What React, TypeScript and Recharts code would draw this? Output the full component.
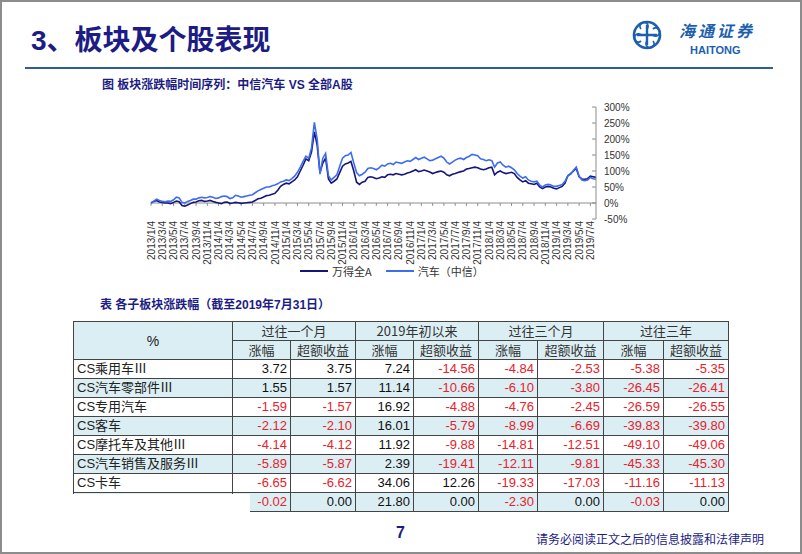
import { LineChart, Line, XAxis, YAxis, ReferenceLine } from "recharts";

// ---- chart data ----
const months: string[] = [];
for (let y = 2013; y <= 2019; y++) {
  for (let m = 1; m <= 12; m++) {
    if (y === 2019 && m > 7) break;
    months.push(`${y}/${m}`);
  }
}
const dates = months.flatMap((m) => [`${m}/4`, `${m}/19`]).concat(["2019/7/31"]);

// 万得全A, cumulative %, twice a month
const allA = [
  0, 5, 8, 3, 2, 0, 0, -2, 2, 6,
  4, -8, -10, -6, -2, 2, 3, 7, 8, 5,
  6, 8, 5, 2, 0, -2, 2, 3, -1, 0,
  2, 1, -1, 0, 1, 2, 3, 8, 13, 15,
  19, 23, 24, 27, 30, 40, 52, 58, 62, 60,
  66, 72, 82, 100, 118, 138, 132, 160, 222, 180,
  95, 125, 140, 75, 62, 68, 75, 95, 115, 122,
  125, 130, 100, 65, 58, 65, 68, 80, 82, 80,
  76, 78, 82, 80, 88, 90, 88, 92, 90, 88,
  90, 94, 96, 100, 104, 98, 100, 103, 100, 97,
  92, 95, 98, 100, 96, 88, 85, 90, 92, 95,
  98, 100, 106, 108, 110, 112, 110, 106, 104, 106,
  110, 112, 88, 96, 100, 95, 92, 94, 96, 92,
  80, 72, 66, 70, 62, 60, 58, 62, 50, 45,
  50, 52, 50, 46, 44, 48, 52, 62, 85, 92,
  100, 108, 82, 75, 74, 76, 84, 82, 80,
];

// 汽车（中信）, cumulative %
const autoCS = [
  0, 6, 12, 8, 5, 4, 6, 5, 10, 18,
  16, 2, 0, 5, 8, 12, 12, 16, 18, 16,
  17, 20, 18, 14, 16, 20, 22, 20, 14, 16,
  24, 22, 18, 20, 22, 24, 26, 32, 38, 42,
  46, 50, 50, 54, 56, 60, 66, 68, 72, 70,
  76, 84, 96, 112, 130, 146, 140, 172, 252, 200,
  90, 140, 155, 85, 72, 80, 88, 115, 140, 148,
  150, 158, 125, 95, 85, 90, 96, 108, 110, 108,
  104, 110, 118, 115, 122, 124, 120, 128, 126, 124,
  128, 132, 130, 136, 142, 136, 140, 143, 138, 132,
  134, 138, 142, 146, 140, 128, 122, 128, 134, 138,
  140, 136, 142, 146, 152, 150, 148, 138, 136, 132,
  135, 132, 112, 125, 128, 118, 112, 115, 110, 104,
  92, 84, 78, 82, 72, 68, 66, 68, 56, 50,
  56, 58, 56, 52, 52, 55, 58, 68, 85, 90,
  102, 112, 84, 72, 70, 72, 80, 76, 74,
];

const tickDates = [
  "2013/1/4", "2013/3/4", "2013/5/4", "2013/7/4", "2013/9/4", "2013/11/4",
  "2014/1/4", "2014/3/4", "2014/5/4", "2014/7/4", "2014/9/4", "2014/11/4",
  "2015/1/4", "2015/3/4", "2015/5/4", "2015/7/4", "2015/9/4", "2015/11/4",
  "2016/1/4", "2016/3/4", "2016/5/4", "2016/7/4", "2016/9/4", "2016/11/4",
  "2017/1/4", "2017/3/4", "2017/5/4", "2017/7/4", "2017/9/4", "2017/11/4",
  "2018/1/4", "2018/3/4", "2018/5/4", "2018/7/4", "2018/9/4", "2018/11/4",
  "2019/1/4", "2019/3/4", "2019/5/4", "2019/7/4",
];
const yTicks = [-50, 0, 50, 100, 150, 200, 250, 300];

const series = [
  { key: "allA", name: "万得全A", color: "#15157a" },
  { key: "auto", name: "汽车（中信）", color: "#3d6cf0" },
];

const chartData = dates.map((d, i) => ({ date: d, allA: allA[i], auto: autoCS[i] }));

// ---- table data ----
const rowNames = ["CS乘用车Ⅲ", "CS汽车零部件Ⅲ", "CS专用汽车", "CS客车", "CS摩托车及其他Ⅲ", "CS汽车销售及服务Ⅲ", "CS卡车", ""];
const groupNames = ["过往一个月", "2019年初以来", "过往三个月", "过往三年"];
const oneMonthChg = [3.72, 1.55, -1.59, -2.12, -4.14, -5.89, -6.65, -0.02];
const oneMonthExcess = [3.75, 1.57, -1.57, -2.1, -4.12, -5.87, -6.62, 0.0];
const ytdChg = [7.24, 11.14, 16.92, 16.01, 11.92, 2.39, 34.06, 21.8];
const ytdExcess = [-14.56, -10.66, -4.88, -5.79, -9.88, -19.41, 12.26, 0.0];
const threeMonthChg = [-4.84, -6.1, -4.76, -8.99, -14.81, -12.11, -19.33, -2.3];
const threeMonthExcess = [-2.53, -3.8, -2.45, -6.69, -12.51, -9.81, -17.03, 0.0];
const threeYearChg = [-5.38, -26.45, -26.59, -39.83, -49.1, -45.33, -11.16, -0.03];
const threeYearExcess = [-5.35, -26.41, -26.55, -39.8, -49.06, -45.3, -11.13, 0.0];
const tableCols = [oneMonthChg, oneMonthExcess, ytdChg, ytdExcess, threeMonthChg, threeMonthExcess, threeYearChg, threeYearExcess];
const colWidths = [159, 58, 65, 58, 65, 59, 66, 60, 65];

const NAVY = "#1c1c84";
const CJK = "'Noto Sans CJK SC', sans-serif";
const LATIN = "'Liberation Sans', Arial, 'Noto Sans CJK SC', sans-serif";
const BLUE_CELL = "#dbeef3";

function DateTick({ x, y, payload }: any) {
  return (
    <text
      x={x}
      y={y}
      dy={3.6}
      transform={`rotate(-90, ${x}, ${y})`}
      textAnchor="end"
      fontSize={10}
      fill="#333"
      fontFamily={LATIN}
    >
      {payload.value}
    </text>
  );
}

function Logo() {
  return (
    <svg width={30} height={30} viewBox="0 0 30 30" style={{ position: "absolute", left: 632, top: 20 }}>
      <circle cx={15} cy={15} r={13} fill="none" stroke="#1d5fae" strokeWidth={2.6} />
      <path d="M5 15 H25 M15 5 V25" stroke="#1d5fae" strokeWidth={2.4} />
      <path d="M9 9 a4 4 0 1 1 6 0 M21 21 a4 4 0 1 1 -6 0 M9 21 a4 4 0 1 1 0 -6 M21 9 a4 4 0 1 1 0 6" fill="none" stroke="#1d5fae" strokeWidth={1.8} />
    </svg>
  );
}

function DataTable() {
  const cell = (bg: string, extra: any = {}) => ({
    border: "1px solid #444",
    background: bg,
    height: 18,
    padding: "0 3px",
    lineHeight: "18px",
    fontSize: 13,
    ...extra,
  });
  return (
    <table
      style={{
        position: "absolute",
        left: 73,
        top: 321,
        borderCollapse: "collapse",
        tableLayout: "fixed",
        width: colWidths.reduce((a, b) => a + b, 0),
        fontFamily: LATIN,
        color: "#222",
      }}
    >
      <colgroup>
        {colWidths.map((w, i) => (
          <col key={i} style={{ width: w }} />
        ))}
      </colgroup>
      <tbody>
        <tr>
          <td rowSpan={2} style={cell(BLUE_CELL, { textAlign: "center", fontSize: 14 })}>%</td>
          {groupNames.map((g) => (
            <td key={g} colSpan={2} style={cell(BLUE_CELL, { textAlign: "center", fontFamily: CJK, color: "#333" })}>
              {g}
            </td>
          ))}
        </tr>
        <tr>
          {groupNames.map((g) => [
            <td key={g + "a"} style={cell(BLUE_CELL, { textAlign: "center", fontFamily: CJK, color: "#333" })}>涨幅</td>,
            <td key={g + "b"} style={cell(BLUE_CELL, { textAlign: "center", fontFamily: CJK, color: "#333" })}>超额收益</td>,
          ])}
        </tr>
        {rowNames.map((name, r) => {
          const bg = r % 2 === 1 ? BLUE_CELL : "#ffffff";
          return (
            <tr key={r}>
              <td style={cell(bg, { textAlign: "left", whiteSpace: "nowrap" })}>{name}</td>
              {tableCols.map((col, c) => (
                <td
                  key={c}
                  style={cell(bg, { textAlign: "right", color: col[r] < 0 ? "#e8212b" : "#111" })}
                >
                  {col[r].toFixed(2)}
                </td>
              ))}
            </tr>
          );
        })}
      </tbody>
    </table>
  );
}

export default function App() {
  return (
    <div
      style={{
        position: "absolute",
        left: 0,
        top: 0,
        width: 802,
        height: 554,
        background: "#fff",
        overflow: "hidden",
      }}
    >
      {/* slide title */}
      <div
        style={{
          position: "absolute",
          left: 31,
          top: 22,
          fontSize: 28,
          fontWeight: 700,
          color: NAVY,
          fontFamily: LATIN,
          lineHeight: "38px",
          whiteSpace: "nowrap",
        }}
      >
        3、板块及个股表现
      </div>
      <div style={{ position: "absolute", left: 25, top: 67, width: 748, height: 2, background: "#2f5d9c" }} />
      <Logo />
      <div
        style={{
          position: "absolute",
          left: 679,
          top: 22,
          fontSize: 16,
          fontStyle: "italic",
          fontWeight: 700,
          color: "#1d5fae",
          fontFamily: CJK,
          lineHeight: "16px",
          letterSpacing: 3,
        }}
      >
        海通证券
      </div>
      <div
        style={{
          position: "absolute",
          left: 690,
          top: 45,
          fontSize: 11,
          fontWeight: 700,
          color: "#1d5fae",
          fontFamily: LATIN,
          lineHeight: "11px",
        }}
      >
        HAITONG
      </div>

      {/* chart title */}
      <div
        style={{
          position: "absolute",
          left: 102,
          top: 77,
          fontSize: 12,
          fontWeight: 700,
          color: NAVY,
          fontFamily: LATIN,
          lineHeight: "16px",
          whiteSpace: "nowrap",
        }}
      >
        图 板块涨跌幅时间序列：中信汽车 VS 全部A股
      </div>

      <div style={{ position: "absolute", left: 0, top: 0 }}>
        <LineChart width={802} height={290} data={chartData} margin={{ top: 107, right: 156, bottom: 21, left: 151 }}>
          <XAxis
            dataKey="date"
            ticks={tickDates}
            interval={0}
            axisLine={false}
            tickLine={false}
            tickSize={0}
            tickMargin={2}
            height={50}
            tick={<DateTick />}
          />
          <YAxis
            orientation="right"
            domain={[-50, 300]}
            ticks={yTicks}
            width={50}
            axisLine={{ stroke: "#8c8c8c" }}
            tickLine={{ stroke: "#8c8c8c" }}
            tickSize={-4}
            tickMargin={12}
            tickFormatter={(v: number) => `${v}%`}
            tick={{ fontSize: 10, fill: "#333", fontFamily: LATIN }}
          />
          <ReferenceLine y={0} stroke="#8c8c8c" strokeWidth={1} />
          {tickDates.map((d) => (
            <ReferenceLine
              key={d}
              segment={[
                { x: d, y: 0 },
                { x: d, y: -9 },
              ]}
              stroke="#8c8c8c"
            />
          ))}
          {series.map((s) => (
            <Line
              key={s.key}
              type="linear"
              dataKey={s.key}
              name={s.name}
              stroke={s.color}
              strokeWidth={1.6}
              dot={false}
              isAnimationActive={false}
            />
          ))}
        </LineChart>
      </div>

      {/* legend */}
      <div
        style={{
          position: "absolute",
          left: 300,
          top: 263,
          display: "flex",
          alignItems: "center",
          fontSize: 11,
          fontFamily: CJK,
          color: "#333",
          whiteSpace: "nowrap",
        }}
      >
        {series.map((s) => (
          <div key={s.key} style={{ display: "flex", alignItems: "center", marginRight: 14 }}>
            <div style={{ width: 28, height: 2, background: s.color, marginRight: 4 }} />
            <span>{s.name}</span>
          </div>
        ))}
      </div>

      {/* table title */}
      <div
        style={{
          position: "absolute",
          left: 100,
          top: 297,
          fontSize: 12,
          fontWeight: 700,
          color: NAVY,
          fontFamily: LATIN,
          lineHeight: "16px",
          whiteSpace: "nowrap",
        }}
      >
        表 各子板块涨跌幅（截至2019年7月31日）
      </div>

      <DataTable />
      <div style={{ position: "absolute", left: 60, top: 494, width: 190, height: 22, background: "#fff" }} />

      {/* footer */}
      <div
        style={{
          position: "absolute",
          left: 396,
          top: 523,
          fontSize: 16,
          fontWeight: 700,
          color: NAVY,
          fontFamily: LATIN,
          lineHeight: "20px",
        }}
      >
        7
      </div>
      <div
        style={{
          position: "absolute",
          left: 536,
          top: 531,
          fontSize: 12,
          color: NAVY,
          fontFamily: CJK,
          lineHeight: "16px",
          whiteSpace: "nowrap",
        }}
      >
        请务必阅读正文之后的信息披露和法律声明
      </div>

      <div
        style={{
          position: "absolute",
          left: 0,
          top: 0,
          width: 802,
          height: 554,
          border: "2px solid #8c8c8c",
          boxSizing: "border-box",
          pointerEvents: "none",
        }}
      />
    </div>
  );
}
